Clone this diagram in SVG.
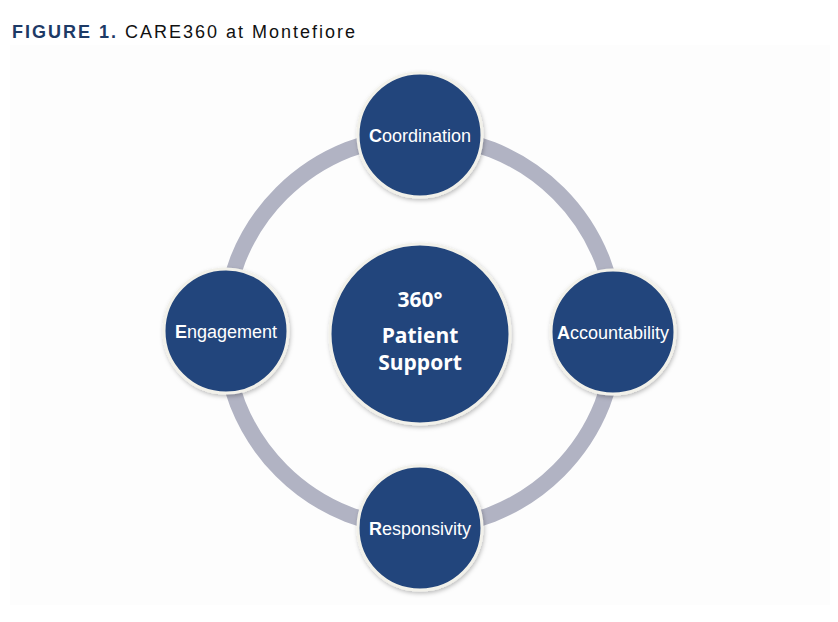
<svg xmlns="http://www.w3.org/2000/svg" width="838" height="622" viewBox="0 0 838 622">
<defs>
<filter id="sh" x="-20%" y="-20%" width="140%" height="140%">
<feDropShadow dx="1" dy="2" stdDeviation="2" flood-color="#000" flood-opacity="0.25"/>
</filter>
</defs>
<style>
.node{fill:#23457b;stroke:#f2f1ea;stroke-width:3;filter:url(#sh)}
.lbl{font-family:"Liberation Sans",Arial,sans-serif;font-size:18px;fill:#fff;text-anchor:middle}
.ctr{font-family:"Open Sans","Liberation Sans",sans-serif;font-size:21px;font-weight:bold;fill:#fff;text-anchor:middle}
.ring{fill:none;stroke:#b1b3c3;stroke-width:16}
</style>
<rect width="838" height="622" fill="#fff"/>
<rect x="10" y="45" width="820" height="560" fill="#fdfdfd"/>
<text x="12" y="38" font-family="'Liberation Sans',Arial,sans-serif" font-size="18" letter-spacing="2"><tspan font-weight="bold" fill="#1d3a66">FIGURE 1.</tspan><tspan fill="#111"> CARE360 at Montefiore</tspan></text>
<g id="connectors">
<circle class="ring" cx="420" cy="332" r="196"/>
</g>
<g id="center">
<circle class="node" cx="420" cy="334" r="90"/>
<text class="ctr" x="420" y="307">360°</text>
<text class="ctr" x="420" y="343">Patient</text>
<text class="ctr" x="420" y="370">Support</text>
</g>
<g id="coordination">
<circle class="node" cx="420" cy="135" r="62"/>
<text class="lbl" x="420" y="142"><tspan font-weight="bold">C</tspan>oordination</text>
</g>
<g id="engagement">
<circle class="node" cx="226" cy="331" r="62"/>
<text class="lbl" x="226" y="338"><tspan font-weight="bold">E</tspan>ngagement</text>
</g>
<g id="accountability">
<circle class="node" cx="613" cy="332" r="62"/>
<text class="lbl" x="613" y="339"><tspan font-weight="bold">A</tspan>ccountability</text>
</g>
<g id="responsivity">
<circle class="node" cx="420" cy="528" r="62"/>
<text class="lbl" x="420" y="535"><tspan font-weight="bold">R</tspan>esponsivity</text>
</g>
</svg>
